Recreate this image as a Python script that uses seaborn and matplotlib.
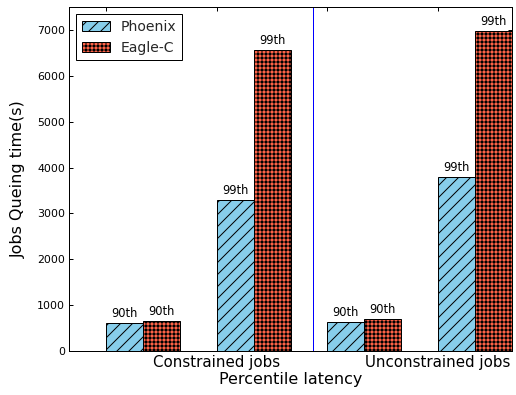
import matplotlib
matplotlib.use("Agg")
import matplotlib.pyplot as plt
from matplotlib.patches import Patch
import pandas as pd
import seaborn as sns

# Bar groups (one per percentile of each job class)
groups = ["Constrained 90th", "Constrained 99th", "Unconstrained 90th", "Unconstrained 99th"]
percentile_labels = ["90th", "99th", "90th", "99th"]
systems = ["Phoenix", "Eagle-C"]

# Queueing time (s)
phoenix = [605, 3290, 625, 3790]
eagle = [650, 6560, 690, 6975]

# Axis text
tick_labels = ["", "Constrained jobs", "", "Unconstrained jobs"]
yticks = [0, 1000, 2000, 3000, 4000, 5000, 6000, 7000]

colors = ["#87CEEB", "#FF6347"]
hatches = ["//", "+++"]

df = pd.DataFrame({
    "group": groups * 2,
    "system": [systems[0]] * len(groups) + [systems[1]] * len(groups),
    "value": phoenix + eagle,
})

sns.set_theme(style="ticks")
plt.rcParams["font.family"] = ["DejaVu Sans"]
plt.rcParams["hatch.linewidth"] = 1.0

DPI = 72
fig = plt.figure(figsize=(516 / DPI, 395 / DPI), dpi=DPI)
ax = fig.add_axes([69 / 516, 1 - 351 / 395, (512 - 69) / 516, (351 - 7) / 395])

sns.barplot(
    data=df, x="group", y="value", hue="system", order=groups, hue_order=systems,
    palette=colors, saturation=1, width=2 / 3, gap=0,
    edgecolor="black", linewidth=1, legend=False, ax=ax,
)

for container, hatch in zip(ax.containers, hatches):
    for bar in container:
        bar.set_hatch(hatch)
        bar.set_edgecolor("black")
    ax.bar_label(container, labels=percentile_labels, padding=3, fontsize=11.5, color="black")

# group separator
ax.axvline(1.537, color="blue", linewidth=1)

ax.set_xlim(-2 / 3, 10 / 3)
ax.set_ylim(0, 7500)
ax.set_xticks([-1 / 3, 2 / 3, 5 / 3, 8 / 3])
ax.set_xticklabels(tick_labels, fontsize=15)
ax.set_yticks(yticks)
ax.set_yticklabels([str(v) for v in yticks], fontsize=11)
ax.tick_params(direction="in", top=True, right=True, length=4, width=1, color="black",
               labelcolor="black", pad=4)
for side in ax.spines.values():
    side.set_visible(True)
    side.set_color("black")
    side.set_linewidth(1)

ax.set_xlabel("Percentile latency", fontsize=16, color="black", labelpad=2)
ax.set_ylabel("Jobs Queing time(s)", fontsize=16, color="black", labelpad=11)

handles = [Patch(facecolor=c, edgecolor="black", hatch=h, linewidth=1) for c, h in zip(colors, hatches)]
leg = ax.legend(handles, systems, loc="upper left", fontsize=14, fancybox=False,
                framealpha=1, edgecolor="black", handlelength=2.0, handleheight=0.7,
                borderaxespad=0.5)
leg.get_frame().set_linewidth(1)

fig.savefig("out.png", dpi=DPI)
